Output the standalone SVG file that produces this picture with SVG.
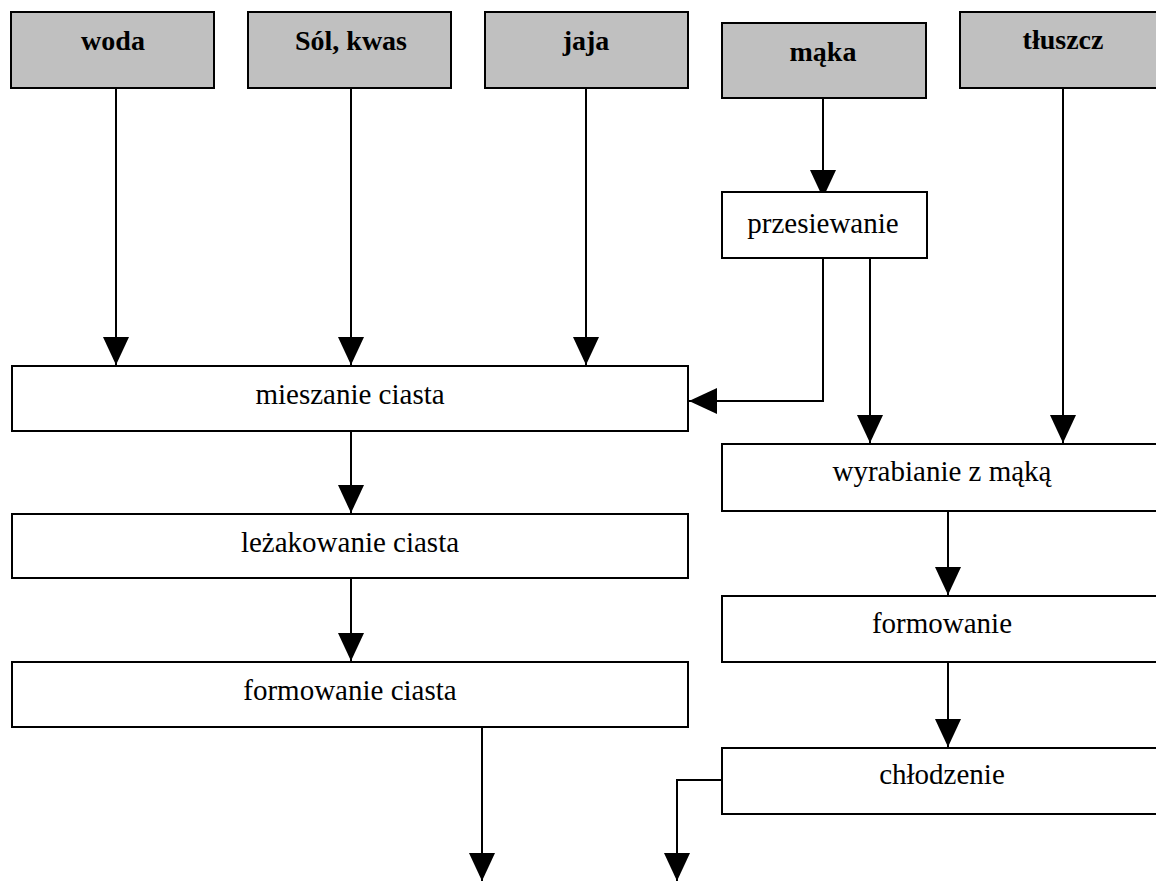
<svg xmlns="http://www.w3.org/2000/svg" width="1156" height="881" viewBox="0 0 1156 881">
<style>
.in{fill:#c0c0c0;stroke:#000;stroke-width:2}
.bx{fill:#fff;stroke:#000;stroke-width:2}
.tb{font-family:"Liberation Serif","Times New Roman",serif;font-weight:bold;font-size:28px;text-anchor:middle;fill:#000}
.t{font-family:"Liberation Serif","Times New Roman",serif;font-size:29px;text-anchor:middle;fill:#000}
.c{fill:none;stroke:#000;stroke-width:2;marker-end:url(#ah)}
</style>
<defs>
<marker id="ah" viewBox="0 0 28 26" refX="28" refY="13" markerWidth="28" markerHeight="26" markerUnits="userSpaceOnUse" orient="auto">
<path d="M0,0 L28,13 L0,26 z" fill="#000"/>
</marker>
</defs>
<rect width="1156" height="881" fill="#fff"/>
<g id="connectors">
<line class="c" x1="116" y1="88" x2="116" y2="365"/>
<line class="c" x1="351" y1="88" x2="351" y2="365"/>
<line class="c" x1="586" y1="88" x2="586" y2="365"/>
<line class="c" x1="823" y1="98" x2="823" y2="198"/>
<polyline class="c" points="823,258 823,401 689,401"/>
<line class="c" x1="870" y1="258" x2="870" y2="443"/>
<line class="c" x1="1063" y1="88" x2="1063" y2="443"/>
<line class="c" x1="351" y1="431" x2="351" y2="513"/>
<line class="c" x1="351" y1="578" x2="351" y2="661"/>
<line class="c" x1="482" y1="728" x2="482" y2="881"/>
<line class="c" x1="948" y1="512" x2="948" y2="595"/>
<line class="c" x1="948" y1="663" x2="948" y2="747"/>
<polyline class="c" points="722,780 677,780 677,881"/>
</g>
<g id="woda"><rect class="in" x="11" y="12" width="203" height="76"/><text class="tb" x="113" y="50">woda</text></g>
<g id="sol"><rect class="in" x="248" y="12" width="203" height="76"/><text class="tb" x="351" y="50">Sól, kwas</text></g>
<g id="jaja"><rect class="in" x="485" y="12" width="203" height="76"/><text class="tb" x="586" y="50">jaja</text></g>
<g id="maka"><rect class="in" x="722" y="23" width="204" height="75"/><text class="tb" x="823" y="61">mąka</text></g>
<g id="tluszcz"><rect class="in" x="960" y="12" width="205" height="76"/><text class="tb" x="1063" y="49">tłuszcz</text></g>
<g id="przesiewanie"><rect class="bx" x="722" y="192" width="205" height="66"/><text class="t" x="823" y="233">przesiewanie</text></g>
<g id="mieszanie"><rect class="bx" x="12" y="366" width="676" height="65"/><text class="t" x="350" y="404">mieszanie ciasta</text></g>
<g id="lezakowanie"><rect class="bx" x="12" y="514" width="676" height="64"/><text class="t" x="350" y="552">leżakowanie ciasta</text></g>
<g id="formowanie-ciasta"><rect class="bx" x="12" y="662" width="676" height="65"/><text class="t" x="350" y="700">formowanie ciasta</text></g>
<g id="wyrabianie"><rect class="bx" x="722" y="444" width="441" height="67"/><text class="t" x="942" y="481">wyrabianie z mąką</text></g>
<g id="formowanie"><rect class="bx" x="722" y="596" width="441" height="66"/><text class="t" x="942" y="633">formowanie</text></g>
<g id="chlodzenie"><rect class="bx" x="722" y="748" width="441" height="66"/><text class="t" x="942" y="784">chłodzenie</text></g>
</svg>
